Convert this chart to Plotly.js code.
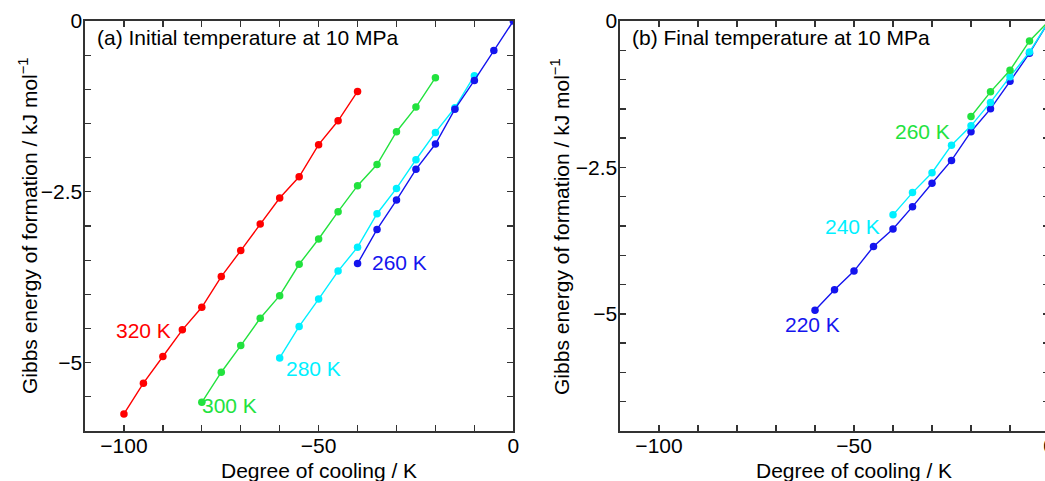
<!DOCTYPE html>
<html>
<head>
<meta charset="utf-8">
<script src="https://cdn.plot.ly/plotly-3.0.1.min.js"></script>
<style>
html,body{margin:0;padding:0;overflow:hidden;background:#fff;}
#chart{width:1060px;height:481px;}
</style>
</head>
<body>
<div id="chart"></div>
<script>
// ---- Panel (a): Initial temperature at 10 MPa ----
const a320_x = [-100,-95,-90,-85,-80,-75,-70,-65,-60,-55,-50,-45,-40];
const a320_y = [-5.75,-5.30,-4.91,-4.52,-4.19,-3.74,-3.36,-2.97,-2.59,-2.28,-1.81,-1.46,-1.03];
const a300_x = [-80,-75,-70,-65,-60,-55,-50,-45,-40,-35,-30,-25,-20];
const a300_y = [-5.58,-5.14,-4.75,-4.35,-4.02,-3.56,-3.19,-2.79,-2.41,-2.10,-1.62,-1.26,-0.83];
const a280_x = [-60,-55,-50,-45,-40,-35,-30,-25,-20,-15,-10];
const a280_y = [-4.93,-4.47,-4.07,-3.66,-3.31,-2.82,-2.45,-2.03,-1.63,-1.27,-0.80];
const a260_x = [-40,-35,-30,-25,-20,-15,-10,-5,0];
const a260_y = [-3.55,-3.05,-2.62,-2.17,-1.80,-1.29,-0.87,-0.43,0];

// ---- Panel (b): Final temperature at 10 MPa ----
const b220_x = [-60,-55,-50,-45,-40,-35,-30,-25,-20,-15,-10,-5,0];
const b220_y = [-4.94,-4.59,-4.27,-3.85,-3.55,-3.17,-2.77,-2.38,-1.89,-1.50,-1.03,-0.55,0];
const b240_x = [-40,-35,-30,-25,-20,-15,-10,-5,0];
const b240_y = [-3.31,-2.93,-2.59,-2.12,-1.79,-1.39,-0.95,-0.53,0];
const b260_x = [-20,-15,-10,-5,0];
const b260_y = [-1.63,-1.21,-0.84,-0.34,0];

const labelsA = ["320 K","300 K","280 K","260 K"];
const labelsB = ["220 K","240 K","260 K"];
const panelTitles = ["(a) Initial temperature at 10 MPa","(b) Final temperature at 10 MPa"];
const xTitle = "Degree of cooling / K";
const yTitle = "Gibbs energy of formation / kJ mol<sup>−1</sup>";

const RED = "#ff0000", GREEN = "#22e23e", CYAN = "#00f0ff", BLUE = "#1414ee";

function tr(x, y, c, xa, ya) {
  return {x: x, y: y, xaxis: xa, yaxis: ya, type: "scatter", mode: "lines+markers",
    line: {color: c, width: 1.4}, marker: {color: c, size: 7.5}, showlegend: false, hoverinfo: "x+y"};
}

const data = [
  tr(a320_x, a320_y, RED, "x", "y"),
  tr(a300_x, a300_y, GREEN, "x", "y"),
  tr(a280_x, a280_y, CYAN, "x", "y"),
  tr(a260_x, a260_y, BLUE, "x", "y"),
  tr(b220_x, b220_y, BLUE, "x2", "y2"),
  tr(b240_x, b240_y, CYAN, "x2", "y2"),
  tr(b260_x, b260_y, GREEN, "x2", "y2")
];

const FONT = {family: "Liberation Sans, Arial, sans-serif", size: 21, color: "#000"};

function xax(domain, anchor) {
  return {domain: domain, anchor: anchor, range: [-110, 0], dtick: 50, tick0: 0,
    ticks: "inside", ticklen: 6, tickwidth: 1.3, tickcolor: "#333", ticklabelstandoff: -5,
    minor: {dtick: 10, ticks: "inside", ticklen: 6, tickwidth: 1.3, tickcolor: "#333"},
    showline: true, linecolor: "#333", linewidth: 1.6, mirror: "ticks",
    showgrid: false, zeroline: false, tickfont: FONT};
}
function yax(domain, anchor, lo) {
  return {domain: domain, anchor: anchor, range: [lo, 0], dtick: 2.5, tick0: 0,
    ticks: "inside", ticklen: 6, tickwidth: 1.3, tickcolor: "#333", ticklabelstandoff: -3,
    minor: {dtick: 0.5, ticks: "inside", ticklen: 6, tickwidth: 1.3, tickcolor: "#333"},
    showline: true, linecolor: "#333", linewidth: 1.6, mirror: "ticks",
    showgrid: false, zeroline: false, tickfont: FONT};
}

function lab(t, x, y, c, xr, yr) {
  return {text: t, x: x, y: y, xref: xr, yref: yr, showarrow: false,
    font: {family: FONT.family, size: 21, color: c}, xanchor: "center", yanchor: "middle"};
}
function note(t, x, y, xr, yr, angle) {
  return {text: t, x: x, y: y, xref: xr, yref: yr, showarrow: false, textangle: angle || 0,
    font: FONT, xanchor: "center", yanchor: "middle"};
}

const layout = {
  width: 1060, height: 481,
  margin: {l: 85, r: 11, t: 21, b: 50, pad: 0},
  paper_bgcolor: "#fff", plot_bgcolor: "#fff",
  font: FONT,
  xaxis: xax([0, 0.4443], "y"),
  yaxis: yax([0, 1], "x", -6),
  xaxis2: xax([0.555, 1], "y2"),
  yaxis2: yax([0, 1], "x2", -7),
  annotations: [
    {text: panelTitles[0], xref: "x domain", yref: "y domain", x: 0.023, y: 0.96,
      xanchor: "left", yanchor: "middle", showarrow: false, font: FONT},
    {text: panelTitles[1], xref: "x2 domain", yref: "y2 domain", x: 0.023, y: 0.96,
      xanchor: "left", yanchor: "middle", showarrow: false, font: FONT},
    note(xTitle, -50, -0.097, "x", "paper"),
    note(xTitle, -50, -0.097, "x2", "paper"),
    note(yTitle, -0.133, 0.5, "x domain", "y domain", -90),
    note(yTitle, -0.14, 0.5, "x2 domain", "y2 domain", -90),
    lab(labelsA[0], -94.9, -4.53, RED, "x", "y"),
    lab(labelsA[1], -72.9, -5.63, GREEN, "x", "y"),
    lab(labelsA[2], -51.2, -5.09, CYAN, "x", "y"),
    lab(labelsA[3], -29.2, -3.53, BLUE, "x", "y"),
    lab(labelsB[0], -60.7, -5.19, BLUE, "x2", "y2"),
    lab(labelsB[1], -50.5, -3.50, CYAN, "x2", "y2"),
    lab(labelsB[2], -32.5, -1.88, GREEN, "x2", "y2")
  ]
};

Plotly.newPlot("chart", data, layout, {displayModeBar: false, staticPlot: true});
</script>
</body>
</html>
